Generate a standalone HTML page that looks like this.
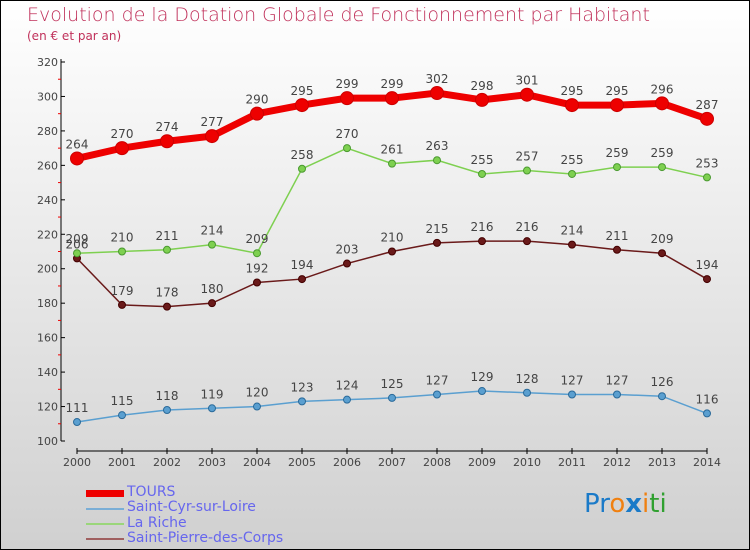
<!DOCTYPE html>
<html><head><meta charset="utf-8"><style>
body{margin:0}
#c{position:relative;width:750px;height:550px;box-sizing:border-box;border:1px solid #000;background:linear-gradient(#fff,#d0d0d0);font-family:"DejaVu Sans","Liberation Sans",sans-serif;overflow:hidden}
.t{position:absolute;left:26px;top:3px;font-size:19px;color:#c0305a;font-weight:300}
.s{position:absolute;left:26px;top:28px;font-size:12px;color:#c0305a}
.lg{position:absolute;left:126px;font-size:14px;color:#6666ee;line-height:14px}
.lgl{position:absolute;left:85px;width:38px}
</style></head><body>
<div id="c">
<div class="t">Evolution de la Dotation Globale de Fonctionnement par Habitant</div>
<div class="s">(en € et par an)</div>
<svg id="g" width="750" height="480" style="position:absolute;left:0;top:0"></svg>
<div class="lgl" style="top:489px;height:7px;background:#e00"></div>
<div class="lgl" style="top:507px;height:2px;background:#7aaed6"></div>
<div class="lgl" style="top:522px;height:2px;background:#9ad67a"></div>
<div class="lgl" style="top:537px;height:2px;background:#a06060"></div>
<div class="lg" style="top:484px">TOURS</div>
<div class="lg" style="top:499px">Saint-Cyr-sur-Loire</div>
<div class="lg" style="top:515px">La Riche</div>
<div class="lg" style="top:530px">Saint-Pierre-des-Corps</div>
<div style="position:absolute;left:583px;top:488px;font-size:26px;font-family:'DejaVu Sans',sans-serif"><span style="color:#1a7ac8">Pr</span><span style="color:#f08010">o</span><span style="color:#1a7ac8;font-weight:bold">x</span><span style="color:#f08010">i</span><span style="color:#30a030">ti</span></div>
</div>
<script>
const years=[2000,2001,2002,2003,2004,2005,2006,2007,2008,2009,2010,2011,2012,2013,2014];
const tours=[264,270,274,277,290,295,299,299,302,298,301,295,295,296,287];
const stcyr=[111,115,118,119,120,123,124,125,127,129,128,127,127,126,116];
const riche=[209,210,211,214,209,258,270,261,263,255,257,255,259,259,253];
const stpierre=[206,179,178,180,192,194,203,210,215,216,216,214,211,209,194];
const yTicks=[100,120,140,160,180,200,220,240,260,280,300,320];
const NS="http://www.w3.org/2000/svg",g=document.getElementById('g');
const X=i=>76+i*45, Y=v=>440-(v-100)*379/220;
function el(t,a){const e=document.createElementNS(NS,t);for(const k in a)e.setAttribute(k,a[k]);g.appendChild(e);return e;}
let e=el('line',{x1:60,y1:58,x2:60,y2:440,stroke:'#000'});

e=el('line',{x1:76,y1:450,x2:706,y2:450,stroke:'#000'});

yTicks.forEach((v,i)=>{
 e=el('line',{x1:60,y1:Y(v),x2:64,y2:Y(v),stroke:'#000'});
 
 if(i<yTicks.length-1){e=el('line',{x1:57,y1:Y(v+10),x2:60,y2:Y(v+10),stroke:'#e00'});
 }
 e=el('text',{x:57,y:Y(v)+4,'text-anchor':'end','font-size':11,fill:'#444'});e.textContent=v;
 
});
years.forEach((yr,i)=>{
 e=el('line',{x1:X(i),y1:447,x2:X(i),y2:453,stroke:'#000'});
 
 e=el('text',{x:X(i),y:465,'text-anchor':'middle','font-size':11,fill:'#444'});e.textContent=yr;
 
});
function series(d,col,dark,w,r,name){
 e=el('polyline',{points:d.map((v,i)=>X(i)+','+Y(v)).join(' '),fill:'none',stroke:col,'stroke-width':w});
 
 d.forEach((v,i)=>{
  e=el('circle',{cx:X(i),cy:Y(v),r:r,fill:col,stroke:dark,'stroke-width':1});
  
  e=el('text',{x:X(i),y:Y(v)-10,'text-anchor':'middle','font-size':12,fill:'#444'});e.textContent=v;
  
 });
}
series(stcyr,'#5a9fd0','#2a6a9a',1.5,3.5,'saint-cyr');
series(stpierre,'#6a1a1a','#400','1.5',3.5,'saint-pierre');
series(riche,'#7ed050','#4a9a30',1.5,3.5,'la-riche');
series(tours,'#e00','#c00',7,6.5,'tours');
</script>
</body></html>
